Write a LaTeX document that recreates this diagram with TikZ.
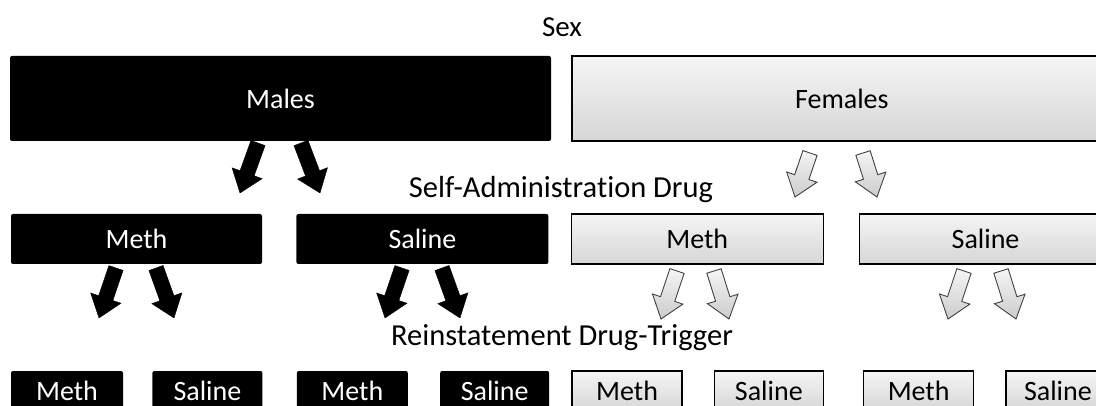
\documentclass[tikz,border=0pt]{standalone}
\usepackage{fontspec}
\setmainfont{Carlito}[Ligatures=NoCommon]
\usetikzlibrary{positioning, calc}

% block arrow from a tail point to a tip point
\newcommand{\blockarrow}[3]{%
  \draw[#1] let \p1=(#2), \p2=(#3),
    \n1={atan2(\y2-\y1,\x2-\x1)}, \n2={veclen(\x2-\x1,\y2-\y1)} in
    [shift={(\p1)}, rotate=\n1]
    (0pt,-7.5pt) -- ({\n2*1pt-21pt},-7.5pt) -- ({\n2*1pt-21pt},-16pt) -- ({\n2*1pt},0pt)
    -- ({\n2*1pt-21pt},16pt) -- ({\n2*1pt-21pt},7.5pt) -- (0pt,7.5pt) -- cycle;}

\begin{document}
\begin{tikzpicture}[x=1pt, y=-1pt,
			box/.style={rectangle, inner sep=0pt, minimum height=50pt, font=\fontsize{28}{33}\selectfont},
			malebox/.style={box, fill=black, text=white, rounded corners=2pt},
			femalebox/.style={box, draw=black, line width=1.3pt, top color=gray!8, bottom color=gray!32},
			level/.style={anchor=base, font=\fontsize{30.5}{36}\selectfont},
			malearrow/.style={fill=black},
			femalearrow/.style={draw=black!75, line width=0.9pt, top color=gray!8, bottom color=gray!40}
		]
		\clip (0,0) rectangle (1096,406);
		\node[level, font=\fontsize{29}{34}\selectfont] (sex) at (562,37) {Sex};
		\node[malebox, minimum width=541pt, minimum height=85pt] (males) at (280.5,98.5) {Males};
		\node[femalebox, minimum width=540pt, minimum height=85pt, right=20pt of males] (females) {Females};
		
		\node[level] (selfadmin) at (561,198) {Self-Administration Drug};
		\node[malebox, minimum width=251pt] (mmeth) at (136.5,239) {Meth};
		\node[malebox, minimum width=252pt, right=34pt of mmeth] (msal) {Saline};
		\node[femalebox, minimum width=252pt, right=22pt of msal] (fmeth) {Meth};
		\node[femalebox, minimum width=252pt, right=35pt of fmeth] (fsal) {Saline};
		
		\node[level] (reinst) at (562,345) {Reinstatement Drug-Trigger};
		\node[malebox, minimum width=112pt, minimum height=40pt] (mmm) at (67,391) {Meth};
		\node[malebox, minimum width=110pt, minimum height=40pt, right=29pt of mmm] (mms) {Saline};
		\node[malebox, minimum width=111pt, minimum height=40pt, right=34pt of mms] (msm) {Meth};
		\node[malebox, minimum width=109pt, minimum height=40pt, right=32pt of msm] (mss) {Saline};
		\node[femalebox, minimum width=110pt, minimum height=40pt, right=22pt of mss] (fmm) {Meth};
		\node[femalebox, minimum width=109pt, minimum height=40pt, right=31pt of fmm] (fms) {Saline};
		\node[femalebox, minimum width=110pt, minimum height=40pt, right=39pt of fms] (fsm) {Meth};
		\node[femalebox, minimum width=104pt, minimum height=40pt, right=31pt of fsm] (fss) {Saline};
		
		% arrow ends
		\coordinate (males-l) at (258,143);  \coordinate (males-lt) at (240,193);
		\coordinate (males-r) at (301,143);  \coordinate (males-rt) at (320,193);
		\coordinate (females-l) at (810,153); \coordinate (females-lt) at (795,197);
		\coordinate (females-r) at (863,153); \coordinate (females-rt) at (877,197);
		\coordinate (mmeth-l) at (116,268);  \coordinate (mmeth-lt) at (99,318);
		\coordinate (mmeth-r) at (156,268);  \coordinate (mmeth-rt) at (174,318);
		\coordinate (msal-l) at (402,268);   \coordinate (msal-lt) at (385,318);
		\coordinate (msal-r) at (442,268);   \coordinate (msal-rt) at (460,318);
		\coordinate (fmeth-l) at (677,271);  \coordinate (fmeth-lt) at (661,319);
		\coordinate (fmeth-r) at (714,271);  \coordinate (fmeth-rt) at (729,319);
		\coordinate (fsal-l) at (964,271);   \coordinate (fsal-lt) at (948,319);
		\coordinate (fsal-r) at (1001,271);  \coordinate (fsal-rt) at (1016,319);
		
		\blockarrow{malearrow}{males-l}{males-lt}
		\blockarrow{malearrow}{males-r}{males-rt}
		\blockarrow{femalearrow}{females-l}{females-lt}
		\blockarrow{femalearrow}{females-r}{females-rt}
		\blockarrow{malearrow}{mmeth-l}{mmeth-lt}
		\blockarrow{malearrow}{mmeth-r}{mmeth-rt}
		\blockarrow{malearrow}{msal-l}{msal-lt}
		\blockarrow{malearrow}{msal-r}{msal-rt}
		\blockarrow{femalearrow}{fmeth-l}{fmeth-lt}
		\blockarrow{femalearrow}{fmeth-r}{fmeth-rt}
		\blockarrow{femalearrow}{fsal-l}{fsal-lt}
		\blockarrow{femalearrow}{fsal-r}{fsal-rt}
		\end{tikzpicture}
\end{document}
